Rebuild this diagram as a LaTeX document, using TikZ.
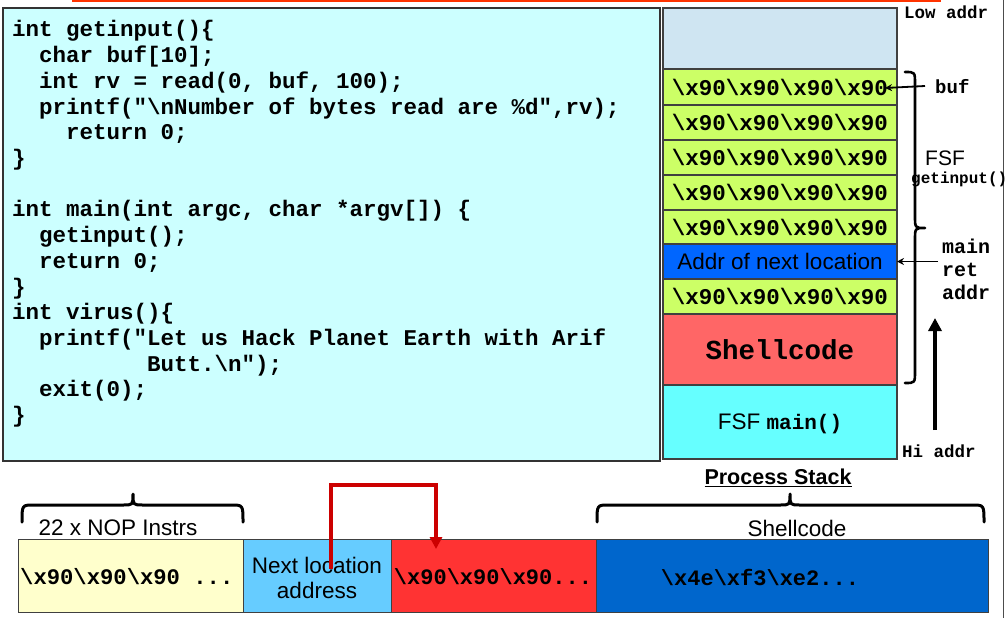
\documentclass[tikz,border=0pt]{standalone}
\usepackage{fontspec}
\setmainfont{Liberation Sans}
\newfontfamily\cmono{Liberation Mono}
\usetikzlibrary{arrows.meta}
\definecolor{codebg}{HTML}{CCFFFF}
\definecolor{lowc}{HTML}{CFE5F2}
\definecolor{nopc}{HTML}{CCFF66}
\definecolor{addrc}{HTML}{0066FF}
\definecolor{shellc}{HTML}{FF6666}
\definecolor{mainc}{HTML}{66FFFF}
\definecolor{yelc}{HTML}{FFFFCC}
\definecolor{nextc}{HTML}{66CCFF}
\definecolor{redc}{HTML}{FF3333}
\definecolor{bluec}{HTML}{0066CC}
\definecolor{arrred}{HTML}{CC0000}
\definecolor{topred}{HTML}{FF3300}
\newcommand\bs{\textbackslash}
\newcommand\nops{\bs x90\bs x90\bs x90\bs x90}
\begin{document}
\begin{tikzpicture}[x=1pt,y=-1pt,
  code/.style={anchor=base west,inner sep=0,font=\cmono\bfseries\fontsize{22.5}{25.7}\selectfont},
  cell/.style={draw=black!75,line width=1.2pt,anchor=north west,inner sep=0,outer sep=0,minimum width=234pt},
  celltxt/.style={inner sep=0,font=\cmono\bfseries\fontsize{22.5}{25}\selectfont},
  sanstxt/.style={inner sep=0,font=\fontsize{22.5}{26}\selectfont},
  small/.style={inner sep=0,font=\cmono\bfseries\fontsize{17.5}{20}\selectfont},
  strip/.style={draw=black!75,line width=1pt,anchor=north west,inner sep=0,outer sep=0,minimum height=73pt},
  bracepath/.style={line width=2.6pt,line cap=round,line join=round},
  arr/.style={line width=1.8pt,-{Stealth[length=7pt,width=7pt]}}]
\useasboundingbox (0,0) rectangle (1006,618);
\fill[white] (0,0) rectangle (1006,618);
\draw[topred,line width=2pt] (72,1) -- (941,1);
\draw[black!70,line width=1pt] (1003,0) -- (1003,618);

% code box
\node[draw=black!80,line width=1.8pt,fill=codebg,anchor=north west,inner sep=0,outer sep=0,minimum width=657pt,minimum height=453pt] (codebox) at (3,8) {};
\node[code] (c1) at (12,37) {int getinput()\{};
\node[code] (c2) at (39,62.7) {char buf[10];};
\node[code] (c3) at (39,88.4) {int rv = read(0, buf, 100);};
\node[code] (c4) at (39,114.1) {printf("\bs nNumber of bytes read are \%d",rv);};
\node[code] (c5) at (66,139.8) {return 0;};
\node[code] (c6) at (12,165.5) {\}};
\node[code] (c8) at (12,216.9) {int main(int argc, char *argv[]) \{};
\node[code] (c9) at (39,242.6) {getinput();};
\node[code] (c10) at (39,268.3) {return 0;};
\node[code] (c11) at (12,294) {\}};
\node[code] (c12) at (12,319.7) {int virus()\{};
\node[code] (c13) at (39,345.4) {printf("Let us Hack Planet Earth with Arif};
\node[code] (c14) at (147,371.1) {Butt.\bs n");};
\node[code] (c15) at (39,396.8) {exit(0);};
\node[code] (c16) at (12,422.5) {\}};

% stack
\node[cell,fill=lowc,minimum height=61pt] (low) at (663,8) {};
\node[cell,fill=nopc,minimum height=36pt] (g1) at (663,69) {};
\node[cell,fill=nopc,minimum height=35pt] (g2) at (663,105) {};
\node[cell,fill=nopc,minimum height=35pt] (g3) at (663,140) {};
\node[cell,fill=nopc,minimum height=35pt] (g4) at (663,175) {};
\node[cell,fill=nopc,minimum height=34pt] (g5) at (663,210) {};
\node[cell,fill=addrc,minimum height=35pt] (addr) at (663,244) {};
\node[cell,fill=nopc,minimum height=35pt] (g6) at (663,279) {};
\node[cell,fill=shellc,minimum height=71pt] (shell) at (663,314) {};
\node[cell,fill=mainc,minimum height=74pt] (fsfmain) at (663,385) {};
\node[celltxt] at (g1.center) {\nops};
\node[celltxt] at (g2.center) {\nops};
\node[celltxt] at (g3.center) {\nops};
\node[celltxt] at (g4.center) {\nops};
\node[celltxt] at (g5.center) {\nops};
\node[sanstxt] at (addr.center) {Addr of next location};
\node[celltxt] at (g6.center) {\nops};
\node[inner sep=0,font=\cmono\bfseries\fontsize{27.5}{30}\selectfont] at (shell.center) {Shellcode};
\node[sanstxt] at ([yshift=-2pt]fsfmain.center) {FSF \cmono\bfseries\fontsize{21}{24}\selectfont main()};

% right-side labels
\node[small,anchor=west] (lowaddr) at (904,12) {Low addr};
\node[small,anchor=west] (hiaddr) at (902,451) {Hi addr};
\node[inner sep=0,anchor=west,font=\cmono\bfseries\fontsize{19}{22}\selectfont] (buf) at (935,87) {buf};
\coordinate (bufpt) at (885,88);
\draw[arr] ([xshift=-10pt,yshift=1pt]buf.west) -- (bufpt);
\node[inner sep=0,anchor=west,align=left,font=\cmono\bfseries\fontsize{20}{23}\selectfont] (mra) at (942,269) {main\\ret\\addr};
\draw[arr] ([xshift=-4pt]mra.west |- addr.east) -- (addr.east);
\draw[bracepath] (905,72) .. controls (915,72) .. (915,84) -- (915,216) .. controls (915,228) .. (925,228) .. controls (915,228) .. (915,240) -- (915,371) .. controls (915,383) .. (905,383);
\node[sanstxt,font=\fontsize{21}{24}\selectfont] (fsf) at (945,158) {FSF};
\node[inner sep=0,anchor=west,font=\cmono\bfseries\fontsize{16}{18}\selectfont] (gi) at (911,179) {getinput()};
\coordinate (upbot) at (935,430);
\coordinate (uptop) at (935,318);
\draw[line width=4pt,-{Triangle[length=13pt,width=13pt]}] (upbot) -- (uptop);

\node[inner sep=0,font=\bfseries\fontsize{21.5}{25}\selectfont] (ps) at (778,478) {\underline{Process Stack}};

% bottom strip
\node[strip,fill=yelc,minimum width=225pt] (yel) at (18,539) {};
\node[strip,fill=nextc,minimum width=148pt] (nxt) at (243,539) {};
\node[strip,fill=redc,minimum width=205pt] (red) at (391,539) {};
\node[strip,fill=bluec,minimum width=392pt] (blu) at (596,539) {};
\node[celltxt,anchor=west,font=\cmono\bfseries\fontsize{22.2}{25}\selectfont] at (20,577) {\bs x90\bs x90\bs x90 ...};
\node[sanstxt,align=center,font=\fontsize{22.5}{25.5}\selectfont] at (317,578) {Next location\\address};
\node[celltxt,font=\cmono\bfseries\fontsize{22}{25}\selectfont] at (493,577) {\bs x90\bs x90\bs x90...};
\node[celltxt,font=\cmono\bfseries\fontsize{22}{25}\selectfont] at (760,577) {\bs x4e\bs xf3\bs xe2...};

% bottom braces
\draw[bracepath,line width=3pt] (22,522) .. controls (22,505) .. (34,505) -- (123,505) .. controls (133,505) .. (133,494) .. controls (133,505) .. (143,505) -- (231,505) .. controls (243,505) .. (243,522);
\node[sanstxt] (nop) at (118,528) {22 x NOP Instrs};
\draw[bracepath,line width=3pt] (597,522) .. controls (597,505) .. (609,505) -- (780,505) .. controls (790,505) .. (790,494) .. controls (790,505) .. (800,505) -- (972,505) .. controls (984,505) .. (984,522);
\node[sanstxt] (sc) at (797,528) {Shellcode};

% red jump arrow
\coordinate (jstart) at (331,569);
\coordinate (jend) at (436,549);
\draw[arrred,line width=4pt,line join=miter,-{Triangle[length=12pt,width=12pt]}] (jstart) -- (331,485) -- (436,485) -- (jend);
\end{tikzpicture}
\end{document}
